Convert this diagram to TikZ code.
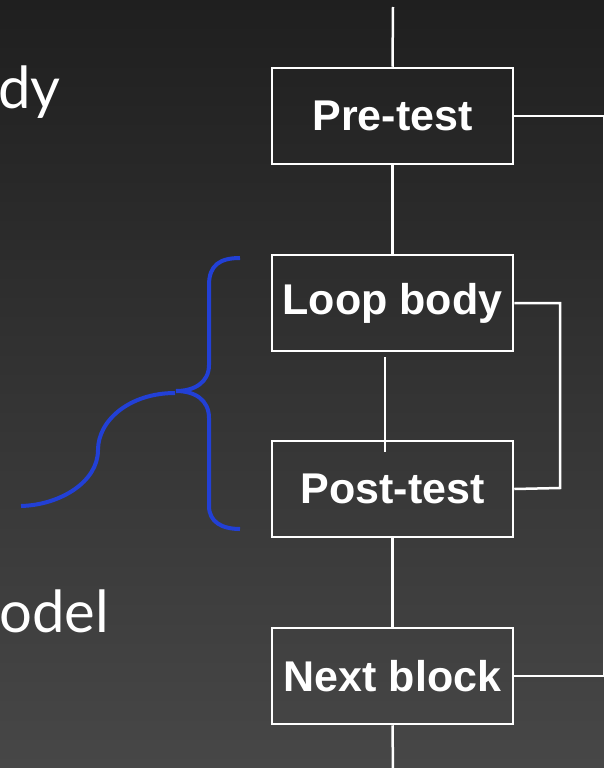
\documentclass[tikz,border=0pt]{standalone}
\usepackage{fontspec}
\setmainfont{Liberation Sans}
\newfontfamily\sidefont{Lato}
\begin{document}
\begin{tikzpicture}[x=1pt,y=-1pt,
  blk/.style={draw=white,line width=2.5pt,rectangle,minimum width=241pt,minimum height=96pt,inner sep=0pt,text=white,font=\fontsize{43}{48}\selectfont\bfseries},
  wire/.style={draw=white,line width=2.5pt},
  brace/.style={draw=bracecol,line width=4pt},
  side/.style={text=white,inner sep=0pt,anchor=base east,font=\sidefont\fontsize{58}{64}\selectfont}]
\definecolor{bracecol}{RGB}{34,64,214}
\definecolor{bgtop}{RGB}{31,31,31}
\definecolor{bgbot}{RGB}{71,71,71}
\shade[top color=bgtop,bottom color=bgbot] (0,0) rectangle (604,768);
\useasboundingbox (0,0) rectangle (604,768);
\node[blk] (pre) at (392.5,116) {Pre-test};
\node[blk] (loop) at (392.5,303) {Loop body};
\node[blk] (post) at (392.5,489) {Post-test};
\node[blk] (next) at (392.5,676) {Next block};
\coordinate (top) at (393,7);
\coordinate (bot) at (393,770);
\coordinate (lb1) at (385,357);
\coordinate (lb2) at (385,452);
\coordinate (r1) at (604,116);
\coordinate (r2) at (604,676);
\coordinate (f1) at (560,303);
\coordinate (f2) at (560,488);
\draw[wire] (top) -- (pre.north);
\draw[wire] (pre.south) -- (loop.north);
\draw[wire] (lb1) -- (lb2);
\draw[wire] (post.south) -- (next.north);
\draw[wire] (next.south) -- (bot);
\draw[wire] (pre.east) -- (r1) -- (r2) -- (next.east);
\draw[wire] (loop.east) -- (f1) -- (f2) -- (post.east);
\draw[brace] (240,258) .. controls (220,258) and (209,265) .. (209,285) -- (209,365)
  .. controls (209,382) and (195,391) .. (176,391)
  .. controls (195,391) and (209,400) .. (209,418) -- (209,506)
  .. controls (209,522) and (222,529) .. (240,529);
\draw[brace] (175,393) .. controls (130,393) and (98,420) .. (98,450)
  .. controls (98,482) and (60,505) .. (21,506);
\node[side] (dy) at (61,108) {dy};
\node[side] (odel) at (109,632) {odel};
\end{tikzpicture}
\end{document}
